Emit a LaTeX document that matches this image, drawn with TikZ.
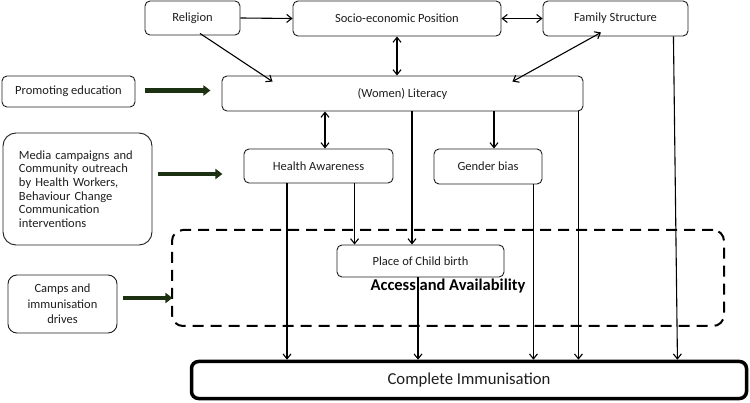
\documentclass[tikz,border=0pt]{standalone}
\usepackage{fontspec}
\setmainfont{Carlito}
\usetikzlibrary{arrows.meta,calc}
\definecolor{ink}{RGB}{30,30,30}
\definecolor{garrow}{RGB}{28,48,18}
\begin{document}
\begin{tikzpicture}[x=1pt,y=-1pt,
  box/.style={draw=ink, line width=0.9pt, rounded corners=5pt, inner sep=0pt, align=center,
    font=\fontsize{12.5}{13.7}\selectfont, text=ink},
  arr/.style={draw=black, line width=1.1pt, -{Straight Barb[length=5pt,width=8pt]}},
  darr/.style={draw=black, line width=1.1pt, {Straight Barb[length=5pt,width=8pt]}-{Straight Barb[length=5pt,width=8pt]}},
  garr/.style={draw=garrow, line width=4.5pt, -{Triangle[length=7pt,width=10pt]}},
]
\useasboundingbox (0,0) rectangle (750,403);

% dashed region
\node[draw=black, line width=2pt, dash pattern=on 11pt off 7pt, rounded corners=11pt,
  minimum width=552pt, minimum height=96pt, inner sep=0pt] (acc) at (448,278) {};
\node[font=\fontsize{16.5}{18}\selectfont\bfseries, text=black, inner sep=0pt] (acclbl) at (448,286) {Access and Availability};

% boxes
\node[box, minimum width=95pt, minimum height=34pt] (rel) at (192.5,18) {Religion};
\node[box, minimum width=208pt, minimum height=35pt] (soc) at (397,18.5) {Socio-economic Position};
\node[box, minimum width=145pt, minimum height=35pt] (fam) at (615.5,18.5) {Family Structure};
\node[box, minimum width=133pt, minimum height=31pt] (prom) at (68.5,91.5) {Promoting education};
\node[box, minimum width=361pt, minimum height=35pt] (lit) at (402.5,93.5) {(Women) Literacy};
\node[box, rounded corners=13pt, minimum width=149pt, minimum height=112pt, text width=117pt, align=left] (media) at (77.5,189)
  {Media campaigns and\\Community outreach\\by Health Workers,\\Behaviour Change\\Communication\\interventions};
\node[box, minimum width=149pt, minimum height=34pt] (health) at (318.5,166) {Health Awareness};
\node[box, minimum width=108pt, minimum height=35pt] (gender) at (488,166.5) {Gender bias};
\node[box, fill=white, minimum width=167pt, minimum height=32pt] (place) at (420.5,261) {Place of Child birth};
\node[box, rounded corners=9pt, minimum width=109pt, minimum height=58pt, font=\fontsize{12.5}{15.5}\selectfont] (camps) at (62.5,304)
  {Camps and\\immunisation\\drives};
\node[draw=black, line width=3.5pt, rounded corners=7pt, minimum width=555pt, minimum height=37pt, inner sep=0pt,
  font=\fontsize{16.7}{18}\selectfont, text=ink] (comp) at (469,380) {Complete Immunisation};

% top arrows
\draw[arr] (rel.east) -- (soc.west);
\draw[darr] (soc.east) -- (fam.west);
\draw[arr] ($(rel.south)+(7.5,-2)$) -- ($(lit.north west)+(51,6)$);
\draw[darr] (soc.south) -- (soc.south |- lit.north);
\draw[darr] ($(fam.south)+(-14.5,-4)$) -- ($(lit.north east)+(-71,6)$);

% literacy arrows
\draw[darr] ($(health.north |- lit.south)+(6.5,0)$) -- ($(health.north)+(6.5,0)$);
\draw[arr] ($(gender.north |- lit.south)+(6,0)$) -- ($(gender.north)+(6,0)$);
\draw[arr] ($(place.north |- lit.south)+(-8.5,0)$) -- ($(place.north)+(-8.5,0)$);
\draw[arr] ($(lit.south east)+(-5,0)$) -- ($(lit.south east |- comp.north)+(-5,0)$);

% lower arrows
\draw[arr] ($(place.north west |- health.south)+(18,0)$) -- ($(place.north west)+(18,0)$);
\draw[arr] ($(health.south)+(-31.5,0)$) -- ($(health.south |- comp.north)+(-31.5,0)$);
\draw[arr] ($(place.south)+(-2.5,0)$) -- ($(place.south |- comp.north)+(-2.5,0)$);
\draw[arr] ($(gender.south east)+(-9,0)$) -- ($(gender.south east |- comp.north)+(-9,0)$);
\draw[arr] ($(fam.south east)+(-15,0)$) -- ($(fam.south east |- comp.north)+(-11,0)$);

% intervention arrows
\draw[garr] ($(prom.east)+(10,-1)$) -- ($(prom.east)+(75,-1)$);
\draw[garr] ($(media.east)+(6,-15)$) -- ($(media.east)+(70,-15)$);
\draw[garr] ($(camps.east)+(6,-6)$) -- ($(camps.east)+(55,-6)$);
\end{tikzpicture}
\end{document}
